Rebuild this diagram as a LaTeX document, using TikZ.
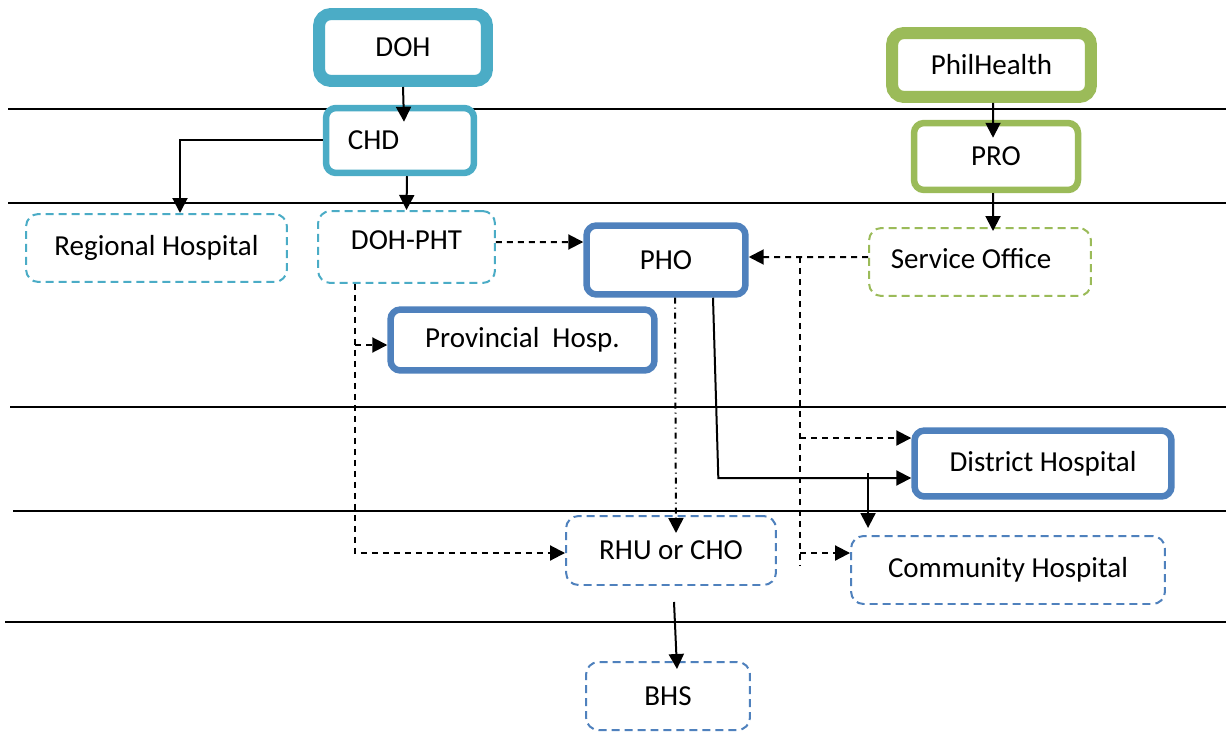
\documentclass[tikz,border=0pt]{standalone}
\usepackage{fontspec}
\setmainfont{Carlito}
\usetikzlibrary{arrows.meta}
\definecolor{aqua}{HTML}{4BACC6}
\definecolor{leaf}{HTML}{9BBB59}
\definecolor{steel}{HTML}{4F81BD}

\begin{document}
\begin{tikzpicture}[x=0.02cm,y=-0.02cm,
    font=\fontsize{16.5}{20}\selectfont,
    bigbox/.style={draw=#1, line width=0.24cm, rounded corners=0.24cm, fill=white},
    midbox/.style={draw=#1, line width=0.13cm, rounded corners=0.2cm, fill=white},
    dashbox/.style={draw=#1, line width=0.04cm, rounded corners=0.25cm, fill=white, dash pattern=on 0.16cm off 0.1cm},
    arr/.style={-{Triangle[length=0.3cm,width=0.3cm]}, line width=0.04cm},
    dasharr/.style={arr, dash pattern=on 0.12cm off 0.1cm},
    dotarr/.style={arr, dash pattern=on 0.12cm off 0.08cm on 0.02cm off 0.08cm}]
\useasboundingbox (0,0) rectangle (1226,733);
    % Levels
    \foreach \y/\x in {109/8,203/8,407/10,511/13,622/5}
        \draw[line width=0.04cm] (\x,\y) -- (1226,\y);

    % DOH side
    \node[bigbox=aqua, minimum width=3.36cm, minimum height=1.34cm] (DOH) at (403,47.5) {DOH};
    \node[midbox=aqua, minimum width=2.96cm, minimum height=1.3cm, label={[xshift=-0.53cm]center:CHD}] (CHD) at (400,140.5) {};
    \node[dashbox=aqua, minimum width=5.22cm, minimum height=1.36cm] (RegHosp) at (156.5,248) {Regional Hospital};
    \node[dashbox=aqua, minimum width=3.54cm, minimum height=1.44cm, label={[yshift=0.14cm]center:DOH-PHT}] (DOHPHT) at (406.5,247) {};

    % PhilHealth side
    \node[bigbox=leaf, minimum width=3.98cm, minimum height=1.28cm] (PhilHealth) at (991.5,65) {PhilHealth};
    \node[midbox=leaf, minimum width=3.28cm, minimum height=1.34cm] (PRO) at (996,156.5) {PRO};
    \node[dashbox=leaf, minimum width=4.44cm, minimum height=1.36cm, label={[xshift=-0.18cm,yshift=0.06cm]center:Service Office}] (ServOff) at (980,262) {};

    % Province and below
    \node[midbox=steel, minimum width=3.18cm, minimum height=1.38cm] (PHO) at (666,260) {PHO};
    \node[midbox=steel, minimum width=5.28cm, minimum height=1.22cm] (ProvHosp) at (522.5,340) {Provincial\ \ Hosp.};
    \node[midbox=steel, minimum width=5.14cm, minimum height=1.32cm] (DistHosp) at (1043,463.5) {District Hospital};
    \node[dashbox=steel, minimum width=6.28cm, minimum height=1.36cm] (CommHosp) at (1008,570) {Community Hospital};
    \node[dashbox=steel, minimum width=4.2cm, minimum height=1.38cm] (RHU) at (671,550.5) {RHU or CHO};
    \node[dashbox=steel, minimum width=3.28cm, minimum height=1.36cm] (BHS) at (668,696) {BHS};

    % solid links
    \draw[arr] (DOH.south) -- ([xshift=0.08cm,yshift=-0.34cm]CHD.north);
    \draw[arr] ([xshift=0.14cm]CHD.south) -- (DOHPHT.north);
    \draw[arr] (CHD.west) -| ([xshift=0.47cm]RegHosp.north);
    \draw[arr] ([xshift=0.03cm]PhilHealth.south) -- ([xshift=-0.06cm,yshift=-0.36cm]PRO.north);
    \draw[arr] ([xshift=-0.06cm]PRO.south) -- ([xshift=0.26cm,yshift=-0.08cm]ServOff.north);
    \coordinate (dOut) at ([yshift=-0.29cm]DistHosp.west);
    \draw[arr] ([xshift=0.94cm]PHO.south) -- ([xshift=-3.86cm]dOut) -- (dOut);
    \coordinate (cIn) at ([xshift=-2.8cm,yshift=0.14cm]CommHosp.north);
    \draw[arr] ([yshift=1.1cm]cIn) -- (cIn);
    \draw[arr] ([xshift=0.06cm,yshift=-0.32cm]RHU.south) -- ([xshift=0.18cm,yshift=-0.16cm]BHS.north);

    % dashed links
    \draw[dasharr] ([yshift=0.1cm]DOHPHT.east) -- ([yshift=0.36cm]PHO.west);
    \draw[dasharr] ([yshift=0.1cm]ServOff.west) -- ([yshift=0.06cm]PHO.east);
    \coordinate (jA) at (800,257);
    \draw[dash pattern=on 0.12cm off 0.1cm, line width=0.04cm] (jA) -- (800,566);
    \coordinate (dIn) at ([yshift=0.51cm]DistHosp.west);
    \draw[dasharr] (jA |- dIn) -- (dIn);
    \coordinate (kIn) at ([yshift=0.34cm]CommHosp.west);
    \draw[dasharr] (jA |- kIn) -- (kIn);
    \coordinate (pTop) at ([xshift=-1.03cm]DOHPHT.south);
    \coordinate (rIn) at ([yshift=-0.05cm]RHU.west);
    \coordinate (qIn) at ([yshift=-0.1cm]ProvHosp.west);
    \draw[dasharr] (pTop) |- (rIn);
    \draw[dasharr] (pTop |- qIn) -- (qIn);
    \draw[dotarr] ([xshift=0.18cm]PHO.south) -- ([xshift=0.1cm,yshift=-0.36cm]RHU.north);
\end{tikzpicture}
\end{document}
